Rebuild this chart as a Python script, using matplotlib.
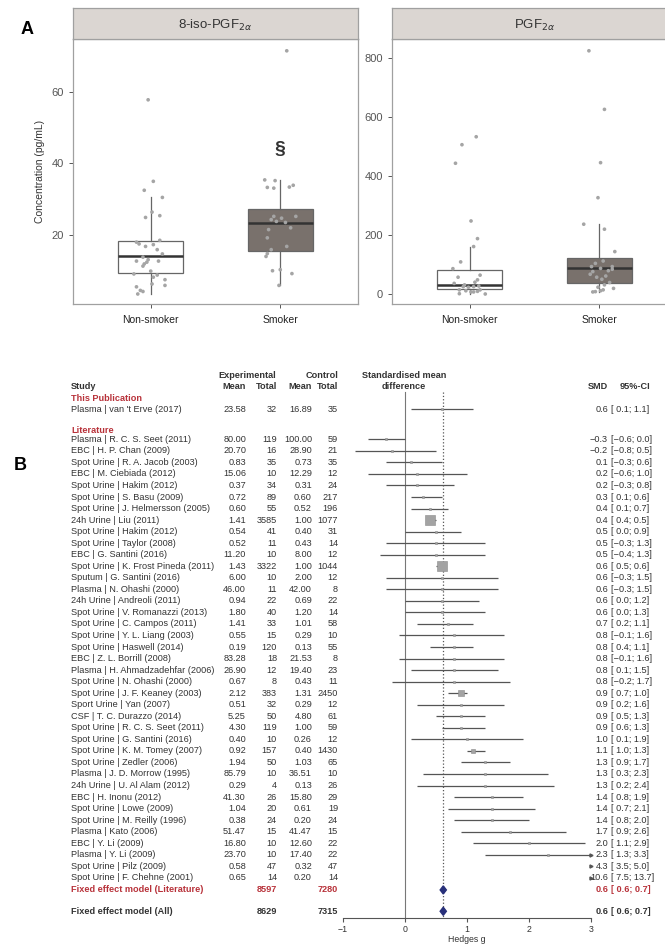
import matplotlib
matplotlib.use("Agg")
import matplotlib.pyplot as plt
from matplotlib.transforms import blended_transform_factory
from matplotlib.patches import Polygon

plt.rcParams['font.family'] = ['Liberation Sans', 'DejaVu Sans']

W, H = 665, 952

# ---------------- Panel A data ----------------
groups = ['Non-smoker', 'Smoker']

iso_non = [57.7, 34.9, 32.4, 30.4, 26.3, 24.8, 25.3, 17.9, 17.4, 16.7, 17.2, 18.4, 15.8, 14.6, 13.7, 13.0,
           12.6, 12.3, 11.8, 12.6, 11.2, 9.8, 9.0, 8.7, 8.1, 7.4, 6.2, 5.8, 5.4, 4.4, 4.1, 3.4]
iso_non_dx = [-0.02, 0.02, -0.05, 0.09, 0.01, -0.04, 0.07, -0.11, -0.09, -0.04, 0.02, 0.07, 0.05, 0.09, -0.06, -0.02,
              -0.11, -0.03, -0.05, 0.06, -0.06, 0.0, -0.13, 0.05, 0.02, 0.11, 0.01, 0.11, -0.11, -0.08, -0.06, -0.1]
iso_smk = [71.4, 35.3, 35.1, 33.2, 33.0, 33.8, 33.3, 25.1, 25.1, 24.6, 24.2, 23.4, 23.7, 21.4, 21.9, 19.1,
           16.7, 15.8, 14.7, 13.9, 9.9, 10.2, 9.1, 5.8]
iso_smk_dx = [0.05, -0.12, -0.04, -0.1, -0.05, 0.1, 0.07, 0.12, -0.05, 0.01, -0.07, 0.04, -0.03, -0.09, 0.08, -0.1,
              0.05, -0.07, -0.1, -0.11, -0.06, 0.0, 0.09, -0.01]
iso_boxes = [dict(q1=9.3, med=14.0, q3=18.3, whislo=3.4, whishi=30.4),
             dict(q1=15.3, med=23.3, q3=27.2, whislo=5.8, whishi=35.3)]

pgf_non = [534, 507, 444, 248, 188, 161, 109, 86, 64, 57, 48, 40, 36, 31, 25, 23, 25, 27, 14, 7, 7, 9, 14, 0, 1, 11]
pgf_non_dx = [0.05, -0.06, -0.11, 0.01, 0.06, 0.03, -0.07, -0.13, 0.08, -0.09, 0.06, 0.04, -0.12, -0.04, -0.05,
              -0.01, 0.03, 0.07, -0.08, 0.01, 0.03, 0.06, 0.08, 0.12, -0.08, -0.03]
pgf_smk = [826, 627, 446, 327, 237, 220, 144, 112, 104, 93, 93, 87, 84, 79, 76, 67, 61, 57, 50, 39, 31, 23, 19,
           7, 8, 11, 14]
pgf_smk_dx = [-0.08, 0.04, 0.01, -0.01, -0.12, 0.04, 0.12, 0.03, -0.03, -0.06, 0.1, 0.01, 0.1, 0.07, -0.05, -0.07,
              0.05, -0.02, 0.02, 0.08, 0.04, -0.01, 0.11, -0.05, -0.03, 0.01, 0.03]
pgf_boxes = [dict(q1=18, med=31, q3=80, whislo=0, whishi=161),
             dict(q1=36, med=87, q3=123, whislo=7, whishi=237)]

# ---------------- Panel B data ----------------
this_study = 'Plasma | van \'t Erve (2017)'
this_vals = (23.58, 32, 16.89, 35)
this_smd = (0.6, 0.1, 1.1)

studies = ['Plasma | R. C. S. Seet (2011)', 'EBC | H. P. Chan (2009)', 'Spot Urine | R. A. Jacob (2003)',
           'EBC | M. Ciebiada (2012)', 'Spot Urine | Hakim (2012)', 'Spot Urine | S. Basu (2009)',
           'Spot Urine | J. Helmersson (2005)', '24h Urine | Liu (2011)', 'Spot Urine | Hakim (2012)',
           'Spot Urine | Taylor (2008)', 'EBC | G. Santini (2016)', 'Spot Urine | K. Frost Pineda (2011)',
           'Sputum | G. Santini (2016)', 'Plasma | N. Ohashi (2000)', '24h Urine | Andreoli (2011)',
           'Spot Urine | V. Romanazzi (2013)', 'Spot Urine | C. Campos (2011)', 'Spot Urine | Y. L. Liang (2003)',
           'Spot Urine | Haswell (2014)', 'EBC | Z. L. Borrill (2008)', 'Plasma | H. Ahmadzadehfar (2006)',
           'Spot Urine | N. Ohashi (2000)', 'Spot Urine | J. F. Keaney (2003)', 'Sport Urine | Yan (2007)',
           'CSF | T. C. Durazzo (2014)', 'Spot Urine | R. C. S. Seet (2011)', 'Spot Urine | G. Santini (2016)',
           'Spot Urine | K. M. Tomey (2007)', 'Spot Urine | Zedler (2006)', 'Plasma | J. D. Morrow (1995)',
           '24h Urine | U. Al Alam (2012)', 'EBC | H. Inonu (2012)', 'Spot Urine | Lowe (2009)',
           'Spot Urine | M. Reilly (1996)', 'Plasma | Kato (2006)', 'EBC | Y. Li (2009)', 'Plasma | Y. Li (2009)',
           'Spot Urine | Pilz (2009)', 'Spot Urine | F. Chehne (2001)']
exp_mean = [80.00, 20.70, 0.83, 15.06, 0.37, 0.72, 0.60, 1.41, 0.54, 0.52, 11.20, 1.43, 6.00, 46.00, 0.94, 1.80,
            1.41, 0.55, 0.19, 83.28, 26.90, 0.67, 2.12, 0.51, 5.25, 4.30, 0.40, 0.92, 1.94, 85.79, 0.29, 41.30,
            1.04, 0.38, 51.47, 16.80, 23.70, 0.58, 0.65]
exp_n = [119, 16, 35, 10, 34, 89, 55, 3585, 41, 11, 10, 3322, 10, 11, 22, 40, 33, 15, 120, 18, 12, 8, 383, 32,
         50, 119, 10, 157, 50, 10, 4, 26, 20, 24, 15, 10, 10, 47, 14]
ctrl_mean = [100.00, 28.90, 0.73, 12.29, 0.31, 0.60, 0.52, 1.00, 0.40, 0.43, 8.00, 1.00, 2.00, 42.00, 0.69, 1.20,
             1.01, 0.29, 0.13, 21.53, 19.40, 0.43, 1.31, 0.29, 4.80, 1.00, 0.26, 0.40, 1.03, 36.51, 0.13, 15.80,
             0.61, 0.20, 41.47, 12.60, 17.40, 0.32, 0.20]
ctrl_n = [59, 21, 35, 12, 24, 217, 196, 1077, 31, 14, 12, 1044, 12, 8, 22, 14, 58, 10, 55, 8, 23, 11, 2450, 12,
          61, 59, 12, 1430, 65, 10, 26, 29, 19, 24, 15, 22, 22, 47, 14]
smd = [-0.3, -0.2, 0.1, 0.2, 0.2, 0.3, 0.4, 0.4, 0.5, 0.5, 0.5, 0.6, 0.6, 0.6, 0.6, 0.6, 0.7, 0.8, 0.8, 0.8, 0.8,
       0.8, 0.9, 0.9, 0.9, 0.9, 1.0, 1.1, 1.3, 1.3, 1.3, 1.4, 1.4, 1.4, 1.7, 2.0, 2.3, 4.3, 10.6]
ci_lo = [-0.6, -0.8, -0.3, -0.6, -0.3, 0.1, 0.1, 0.4, 0.0, -0.3, -0.4, 0.5, -0.3, -0.3, 0.0, 0.0, 0.2, -0.1, 0.4,
         -0.1, 0.1, -0.2, 0.7, 0.2, 0.5, 0.6, 0.1, 1.0, 0.9, 0.3, 0.2, 0.8, 0.7, 0.8, 0.9, 1.1, 1.3, 3.5, 7.5]
ci_hi = [0.0, 0.5, 0.6, 1.0, 0.8, 0.6, 0.7, 0.5, 0.9, 1.3, 1.3, 0.6, 1.5, 1.5, 1.2, 1.3, 1.1, 1.6, 1.1, 1.6, 1.5,
         1.7, 1.0, 1.6, 1.3, 1.3, 1.9, 1.3, 1.7, 2.3, 2.4, 1.9, 2.1, 2.0, 2.6, 2.9, 3.3, 5.0, 13.7]

fe_lit = (8597, 7280, 0.62, 0.57, 0.67)
fe_all = (8629, 7315, 0.62, 0.57, 0.67)

RED = '#b8323a'
TXT = '#333333'
FS = 6.6


def fig_rect(x0, y0, x1, y1):
    # pixel box -> figure fraction rect
    return [x0 / W, 1 - y1 / H, (x1 - x0) / W, (y1 - y0) / H]


fig = plt.figure(figsize=(W / 100, H / 100), dpi=100)


# ---------------- Panel A ----------------
def facet(rect, strip_title, boxes, pts, ylim, yticks):
    ax = fig.add_axes(fig_rect(*rect))
    for i, st in enumerate(boxes):
        face = 'white' if i == 0 else '#79716c'
        ax.bxp([st], positions=[i + 1], widths=0.5, patch_artist=True, showfliers=False, showcaps=False,
               boxprops=dict(facecolor=face, edgecolor='#666666', linewidth=0.9),
               whiskerprops=dict(color='#666666', linewidth=0.9),
               medianprops=dict(color='#333333', linewidth=1.8))
    for i, (vals, dx) in enumerate(pts):
        ax.scatter([i + 1 + d for d in dx], vals, s=7, color='#a5a5a5', edgecolors='none', zorder=5)
    ax.set_xlim(0.4, 2.6)
    ax.set_ylim(*ylim)
    ax.set_xticks([1, 2])
    ax.set_xticklabels(groups, fontsize=7.5, color='#222222')
    ax.set_yticks(yticks)
    ax.tick_params(axis='y', labelsize=8, colors='#555555', length=3, width=0.7, labelcolor='#555555')
    ax.tick_params(axis='x', length=3, width=0.7, colors='#555555', labelcolor='#222222', pad=5)
    for sp in ax.spines.values():
        sp.set_color('#a0a0a0')
        sp.set_linewidth(0.9)
    # strip
    sx = fig.add_axes(fig_rect(rect[0], 8, rect[2], rect[1]))
    sx.set_facecolor('#dbd6d2')
    sx.set_xticks([])
    sx.set_yticks([])
    for sp in sx.spines.values():
        sp.set_color('#a0a0a0')
        sp.set_linewidth(0.9)
    sx.text(0.5, 0.45, strip_title, ha='center', va='center', fontsize=9.5, color='#333333',
            transform=sx.transAxes)
    return ax


ax1 = facet((73, 39, 358, 304), r'8-iso-PGF$_{2\alpha}$', iso_boxes,
            [(iso_non, iso_non_dx), (iso_smk, iso_smk_dx)], (0.6, 74.7), [20, 40, 60])
ax1.set_ylabel('Concentration (pg/mL)', fontsize=7.5, color='#333333', labelpad=5)
ax1.text(2, 43.7, '§', ha='center', va='center', fontsize=14, fontweight='bold', color='#333333')

ax2 = facet((392, 39, 677, 304), r'PGF$_{2\alpha}$', pgf_boxes,
            [(pgf_non, pgf_non_dx), (pgf_smk, pgf_smk_dx)], (-34, 866), [0, 200, 400, 600, 800])

fig.text(27 / W, 1 - 29 / H, 'A', fontsize=13, fontweight='bold', ha='center', va='center')
fig.text(20 / W, 1 - 465 / H, 'B', fontsize=13, fontweight='bold', ha='center', va='center')

# ---------------- Panel B (forest plot) ----------------
ROW = 11.54
k_top, k_bot = (360 - 439.3) / ROW, (918 - 439.3) / ROW
axb = fig.add_axes(fig_rect(342.7, 360, 591, 918))
axb.set_xlim(-1, 3)
axb.set_ylim(k_bot, k_top)
for s in ['top', 'left', 'right']:
    axb.spines[s].set_visible(False)
axb.spines['bottom'].set_color('#555555')
axb.spines['bottom'].set_linewidth(0.8)
axb.set_yticks([])
axb.set_xticks([-1, 0, 1, 2, 3])
axb.tick_params(axis='x', labelsize=6.3, length=3, width=0.8, colors='#555555', labelcolor='#333333', pad=2)
axb.set_xlabel('Hedges g', fontsize=6.3, color='#333333', labelpad=1)
axb.patch.set_visible(False)

tr = blended_transform_factory(fig.transFigure, axb.transData)


def put(xpx, k, s, ha='left', color=TXT, bold=False):
    axb.text(xpx / W, k, s, transform=tr, ha=ha, va='center', fontsize=FS, color=color,
             fontweight='bold' if bold else 'normal')


def ci_text(lo, hi):
    return '[%s; %s]' % (('%4.1f' % lo).replace('-', '\u2212'), ('%.1f' % hi).replace('-', '\u2212'))


def row(k, label, em, en, cm, cn, est, lo, hi):
    put(71, k, label)
    put(246, k, '%.2f' % em, 'right')
    put(277, k, '%d' % en, 'right')
    put(312, k, '%.2f' % cm, 'right')
    put(338, k, '%d' % cn, 'right')
    put(608, k, ('%.1f' % est).replace('-', '\u2212'), 'right')
    put(611, k, ci_text(lo, hi))
    # CI line, clipped to axis range with arrow
    a, b = max(lo, -1), min(hi, 3)
    if a < b:
        axb.plot([a, b], [k, k], color='#555555', lw=0.9, solid_capstyle='butt')
    if hi > 3:
        axb.plot([3], [k], marker='>', ms=2.2, color='#555555', clip_on=False)
    if -1 <= est <= 3:
        side = max(2.5, 0.32 * (en * cn / (en + cn)) ** 0.5)
        axb.plot([est], [k], marker='s', ms=side / 1.389, mfc='#a3a3a3', mec='#8a8a8a', mew=0.4, zorder=4)


def diamond(k, est, lo, hi, color):
    axb.add_patch(Polygon([[lo, k], [est, k - 0.35], [hi, k], [est, k + 0.35]], closed=True,
                          facecolor=color, edgecolor=color, zorder=5))


# headers
put(247, -5.5, 'Experimental', 'center', bold=True)
put(338, -5.5, 'Control', 'right', bold=True)
put(71, -4.55, 'Study', bold=True)
put(246, -4.55, 'Mean', 'right', bold=True)
put(277, -4.55, 'Total', 'right', bold=True)
put(312, -4.55, 'Mean', 'right', bold=True)
put(338, -4.55, 'Total', 'right', bold=True)
put(404, -5.5, 'Standardised mean', 'center', bold=True)
put(404, -4.55, 'difference', 'center', bold=True)
put(608, -4.55, 'SMD', 'right', bold=True)
put(620, -4.55, '95%-CI', bold=True)
put(71, -3.55, 'This Publication', color=RED, bold=True)
put(71, -0.8, 'Literature', color=RED, bold=True)

# reference lines
axb.plot([0, 0], [-4.1, k_bot], color='#777777', lw=0.8)
axb.plot([fe_all[2]] * 2, [-4.1, k_bot], color='#555555', lw=0.9, ls=':')

row(-2.6, this_study, *this_vals, *this_smd)
for i in range(len(studies)):
    row(i, studies[i], exp_mean[i], exp_n[i], ctrl_mean[i], ctrl_n[i], smd[i], ci_lo[i], ci_hi[i])

for k, lab, fe, col in [(39.05, 'Fixed effect model (Literature)', fe_lit, RED),
                        (40.9, 'Fixed effect model (All)', fe_all, TXT)]:
    put(71, k, lab, color=col, bold=True)
    put(277, k, '%d' % fe[0], 'right', color=col, bold=True)
    put(338, k, '%d' % fe[1], 'right', color=col, bold=True)
    put(608, k, '%.1f' % fe[2], 'right', color=col, bold=True)
    put(611, k, ci_text(fe[3], fe[4]), color=col, bold=True)
    diamond(k, fe[2], fe[3], fe[4], '#28307a')

fig.savefig('out.png', dpi=100)
